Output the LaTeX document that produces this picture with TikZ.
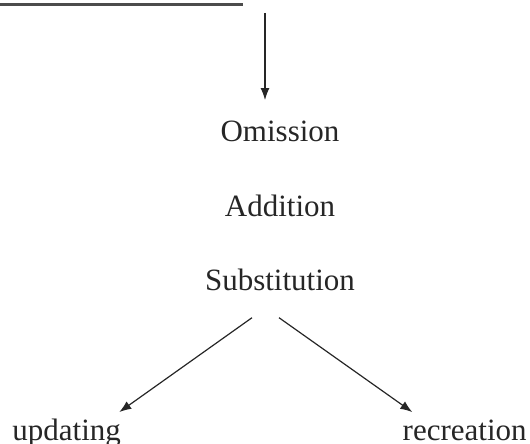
\documentclass[tikz,border=0pt]{standalone}
\usepackage{fontspec}
\setmainfont{Liberation Serif}
\usetikzlibrary{arrows.meta, positioning}

\begin{document}
\begin{tikzpicture}[x=0.5pt,y=-0.5pt]%
        \tikzstyle{term} = [anchor=base, inner sep=0pt, text=black!85, font=\fontsize{15.5}{18}\selectfont]
        \tikzstyle{arr} = [-{Latex[length=6pt,width=4.5pt]}, line width=0.6pt, black!85]

        \useasboundingbox (0,0) rectangle (530,444);
        \draw[line width=1.3pt, black!70] (0,4.5) -- (243,4.5);

        \coordinate (source) at (265,13);
        \node[term] (omission) at (280,141) {Omission};
        \node[term] (addition) at (280,216) {Addition};
        \node[term] (substitution) at (280,290) {Substitution};
        \node[term, anchor=base west] (updating) at (12,440) {updating};
        \node[term, anchor=base east] (recreation) at (527,440) {recreation};

        \draw[arr, shorten >=10pt] (source) -- (source |- omission.north);
        \draw[arr] ([xshift=-14pt, yshift=-13.5pt]substitution.south) -- ([xshift=-1pt, yshift=3pt]updating.north east);
        \draw[arr] ([xshift=-0.5pt, yshift=-13.5pt]substitution.south) -- ([xshift=5pt, yshift=3.5pt]recreation.north west);
      \end{tikzpicture}
\end{document}
